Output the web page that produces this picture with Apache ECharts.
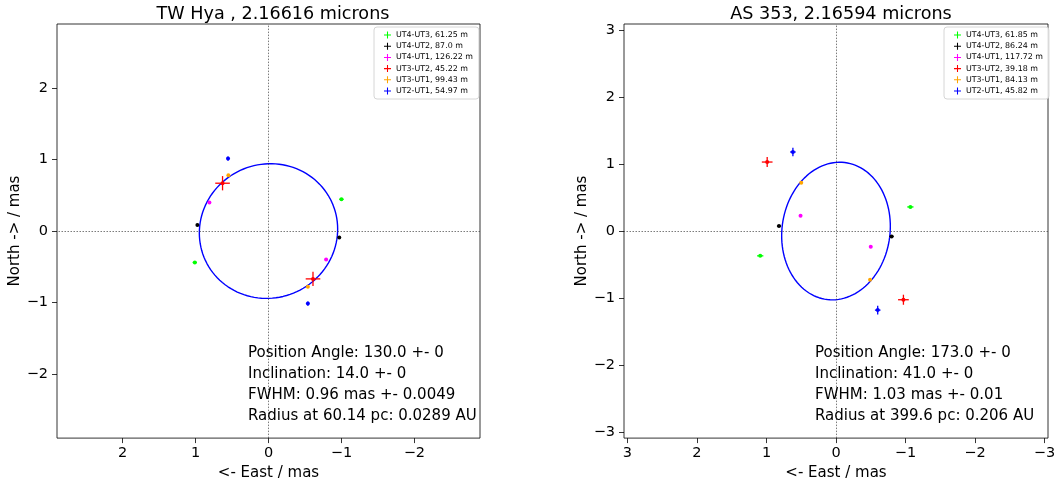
<!DOCTYPE html>
<html>
<head>
<meta charset="utf-8">
<title>Disk fits: TW Hya and AS 353</title>
<script src="https://cdn.jsdelivr.net/npm/echarts@6/dist/echarts.min.js"></script>
<style>
  html, body { margin: 0; padding: 0; background: #fff; }
  #chart { width: 1062px; height: 486px; }
</style>
</head>
<body>
<div id="chart"></div>
<script>
// ---- TW Hya, 2.16616 microns ----
const twTitle = 'TW Hya , 2.16616 microns';
const twBaselines = ['UT4-UT3', 'UT4-UT2', 'UT4-UT1', 'UT3-UT2', 'UT3-UT1', 'UT2-UT1'];
const twLengths = ['61.25', '87.0', '126.22', '45.22', '99.43', '54.97'];
// each baseline: two (u,v)-mirrored points, East / North offsets in mas
const twEast  = [[1.01, -1.00], [0.975, -0.97], [0.81, -0.79], [0.63, -0.61], [0.55, -0.54], [0.555, -0.54]];
const twNorth = [[-0.44, 0.445], [0.086, -0.09], [0.40, -0.40], [0.67, -0.67], [0.78, -0.78], [1.015, -1.015]];
const twErrEast  = [0.03, 0.012, 0.012, 0.10, 0.01, 0.012];
const twErrNorth = [0.01, 0.012, 0.012, 0.10, 0.01, 0.03];
const twPA = 130.0, twIncl = 14.0, twFwhm = 0.96;
const twPAErr = '0', twInclErr = '0', twFwhmErr = '0.0049';
const twDist = '60.14', twRadiusAU = '0.0289';
const twTicks = [-2, -1, 0, 1, 2];
const twLimit = 2.9;

// ---- AS 353, 2.16594 microns ----
const asTitle = 'AS 353, 2.16594 microns';
const asBaselines = ['UT4-UT3', 'UT4-UT2', 'UT4-UT1', 'UT3-UT2', 'UT3-UT1', 'UT2-UT1'];
const asLengths = ['61.85', '86.24', '117.72', '39.18', '84.13', '45.82'];
const asEast  = [[1.09, -1.07], [0.82, -0.80], [0.51, -0.50], [0.99, -0.97], [0.50, -0.49], [0.62, -0.60]];
const asNorth = [[-0.37, 0.36], [0.074, -0.08], [0.23, -0.235], [1.03, -1.025], [0.72, -0.725], [1.18, -1.18]];
const asErrEast  = [0.045, 0.03, 0.02, 0.077, 0.01, 0.04];
const asErrNorth = [0.01, 0.01, 0.01, 0.075, 0.01, 0.065];
const asPA = 173.0, asIncl = 41.0, asFwhm = 1.03;
const asPAErr = '0', asInclErr = '0', asFwhmErr = '0.01';
const asDist = '399.6', asRadiusAU = '0.206';
const asTicks = [-3, -2, -1, 0, 1, 2, 3];
const asLimitX = 3.05, asLimitY = 3.09;

const baselineColors = ['#00ff00', '#000000', '#ff00ff', '#ff0000', '#ffa500', '#0000ff'];

const FONT = '"DejaVu Sans", "Liberation Sans", sans-serif';
const plusIcon = 'path://M4.25,0h1.5v4.25h4.25v1.5h-4.25v4.25h-1.5v-4.25h-4.25v-1.5h4.25z';

// model ellipse outline from position angle (E of N), inclination and FWHM (semi-major axis)
function ellipsePoints(pa, incl, fwhm) {
  const a = fwhm, b = fwhm * Math.cos(incl * Math.PI / 180);
  const p = pa * Math.PI / 180;
  const pts = [];
  for (let i = 0; i <= 240; i++) {
    const t = 2 * Math.PI * i / 240;
    const ca = a * Math.cos(t), sb = b * Math.sin(t);
    const east = ca * Math.sin(p) + sb * Math.cos(p);
    const north = ca * Math.cos(p) - sb * Math.sin(p);
    pts.push([east, north]);
  }
  return pts;
}

// point with horizontal and vertical error bars
function errorRender(params, api) {
  const x = api.value(0), y = api.value(1), ex = api.value(2), ey = api.value(3);
  const c = api.coord([x, y]);
  const l = api.coord([x - ex, y]), r = api.coord([x + ex, y]);
  const t = api.coord([x, y + ey]), b = api.coord([x, y - ey]);
  const color = api.visual('color');
  return {
    type: 'group',
    children: [
      { type: 'line', shape: { x1: l[0], y1: l[1], x2: r[0], y2: r[1] }, style: { stroke: color, lineWidth: 1.3 } },
      { type: 'line', shape: { x1: t[0], y1: t[1], x2: b[0], y2: b[1] }, style: { stroke: color, lineWidth: 1.3 } },
      { type: 'circle', shape: { cx: c[0], cy: c[1], r: 2 }, style: { fill: color } }
    ]
  };
}

function minusFmt(v) { return String(v).replace('-', '\u2212'); }

function makeAxes(idx, limX, limY, ticks) {
  const common = {
    gridIndex: idx,
    nameLocation: 'middle',
    nameTextStyle: { fontFamily: FONT, fontSize: 15, color: '#000' },
    axisLine: { show: false, onZero: false },
    axisTick: { show: true, length: 5, inside: false, customValues: ticks, lineStyle: { color: '#000', width: 0.8 } },
    axisLabel: { customValues: ticks, fontFamily: FONT, fontSize: 14.5, color: '#000', formatter: minusFmt },
    splitLine: { show: false }
  };
  const x = Object.assign({}, common, {
    type: 'value', min: -limX, max: limX, inverse: true,
    name: '<- East / mas', nameGap: 22
  });
  x.axisLabel = Object.assign({}, common.axisLabel, { margin: 8 });
  const y = Object.assign({}, common, {
    type: 'value', min: -limY, max: limY,
    name: 'North -> / mas', nameGap: 28
  });
  y.axisLabel = Object.assign({}, common.axisLabel, { margin: 9 });
  return { x, y };
}

function makeSeries(idx, baselines, lengths, east, north, errE, errN, pa, incl, fwhm) {
  const out = [];
  const names = [];
  baselines.forEach((bl, i) => {
    const name = bl + ', ' + lengths[i] + ' m';
    names.push(name);
    out.push({
      type: 'custom',
      name: name,
      xAxisIndex: idx, yAxisIndex: idx,
      renderItem: errorRender,
      encode: { x: 0, y: 1 },
      itemStyle: { color: baselineColors[i] },
      data: east[i].map((e, k) => [e, north[i][k], errE[i], errN[i]]),
      z: 3
    });
  });
  out.push({
    type: 'line',
    name: 'model' + idx,
    xAxisIndex: idx, yAxisIndex: idx,
    data: ellipsePoints(pa, incl, fwhm),
    showSymbol: false,
    smooth: false,
    lineStyle: { color: '#0000ff', width: 1.4 },
    silent: true,
    z: 2,
    markLine: {
      silent: true,
      symbol: 'none',
      label: { show: false },
      lineStyle: { color: '#444', width: 0.7, type: [1.5, 1.5] },
      data: [{ xAxis: 0 }, { yAxis: 0 }]
    }
  });
  return { series: out, names };
}

const tw = makeSeries(0, twBaselines, twLengths, twEast, twNorth, twErrEast, twErrNorth, twPA, twIncl, twFwhm);
const as = makeSeries(1, asBaselines, asLengths, asEast, asNorth, asErrEast, asErrNorth, asPA, asIncl, asFwhm);
const twAx = makeAxes(0, twLimit, twLimit, twTicks);
const asAx = makeAxes(1, asLimitX, asLimitY, asTicks);

function legendFor(names, left) {
  return {
    data: names,
    left: left, top: 27,
    orient: 'vertical',
    icon: plusIcon,
    itemWidth: 7, itemHeight: 7,
    itemGap: 3.2,
    padding: [4, 6, 4, 10],
    borderColor: '#cccccc', borderWidth: 0.8, borderRadius: 3,
    backgroundColor: 'rgba(255,255,255,0.85)',
    textStyle: { fontFamily: FONT, fontSize: 7.9, color: '#000', lineHeight: 8, padding: [0, 0, 0, 0] },
    selectedMode: false
  };
}

function annotation(left, lines) {
  return lines.map((s, i) => ({
    type: 'text',
    left: left, top: 346 + i * 21,
    style: { text: s, font: '15px ' + FONT, fill: '#000' },
    z: 10
  }));
}

const option = {
  animation: false,
  backgroundColor: '#ffffff',
  title: [
    { text: twTitle, left: 268, top: 0, textAlign: 'center',
      textStyle: { fontFamily: FONT, fontSize: 17.6, fontWeight: 'normal', color: '#000' } },
    { text: asTitle, left: 836, top: 0, textAlign: 'center',
      textStyle: { fontFamily: FONT, fontSize: 17.6, fontWeight: 'normal', color: '#000' } }
  ],
  grid: [
    { left: 57, top: 24, width: 423, height: 420, show: true, borderColor: '#000', borderWidth: 0.8, backgroundColor: 'transparent' },
    { left: 624, top: 24, width: 424, height: 420, show: true, borderColor: '#000', borderWidth: 0.8, backgroundColor: 'transparent' }
  ],
  xAxis: [twAx.x, asAx.x],
  yAxis: [twAx.y, asAx.y],
  legend: [legendFor(tw.names, 374), legendFor(as.names, 944)],
  series: tw.series.concat(as.series),
  graphic: annotation(248, [
    'Position Angle: ' + twPA.toFixed(1) + ' +- ' + twPAErr,
    'Inclination: ' + twIncl.toFixed(1) + ' +- ' + twInclErr,
    'FWHM: ' + twFwhm.toFixed(2) + ' mas +- ' + twFwhmErr,
    'Radius at ' + twDist + ' pc: ' + twRadiusAU + ' AU'
  ]).concat(annotation(815, [
    'Position Angle: ' + asPA.toFixed(1) + ' +- ' + asPAErr,
    'Inclination: ' + asIncl.toFixed(1) + ' +- ' + asInclErr,
    'FWHM: ' + asFwhm.toFixed(2) + ' mas +- ' + asFwhmErr,
    'Radius at ' + asDist + ' pc: ' + asRadiusAU + ' AU'
  ]))
};

const chart = echarts.init(document.getElementById('chart'), null, { renderer: 'canvas' });
chart.setOption(option);
</script>
</body>
</html>
